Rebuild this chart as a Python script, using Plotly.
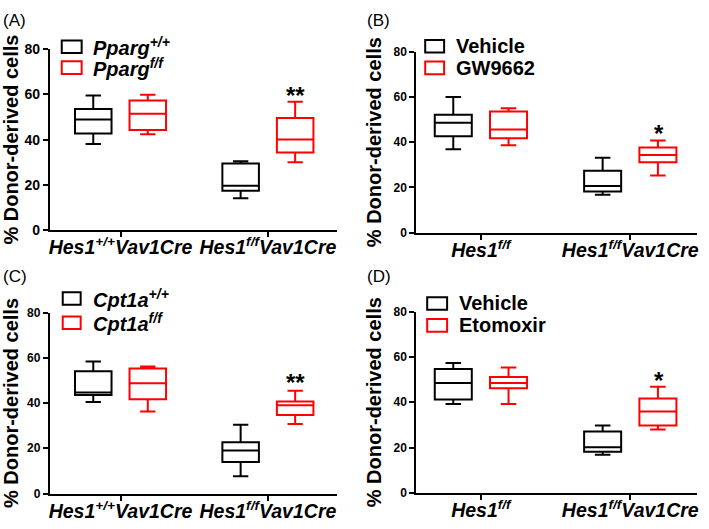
import plotly.graph_objects as go

W, H = 709, 529
FONT = "Liberation Sans, Arial, sans-serif"
BLACK = "#000000"
RED = "#ff0000"

# ---------------- data (per group: [lower whisker, q1, median, q3, upper whisker]) ----------------
cats_AC = ["<b><i>Hes1<sup>+/+</sup>Vav1Cre</i></b>", "<b><i>Hes1<sup>f/f</sup>Vav1Cre</i></b>"]
cats_BD = ["<b><i>Hes1<sup>f/f</sup></i></b>", "<b><i>Hes1<sup>f/f</sup>Vav1Cre</i></b>"]

A_names = ["Pparg<sup>+/+</sup>", "Pparg<sup>f/f</sup>"]
A_ctrl = [[38.1, 42.7, 48.9, 53.6, 59.6], [14.0, 17.3, 19.5, 29.4, 30.4]]
A_trt = [[42.4, 44.3, 51.5, 57.3, 59.9], [30.0, 34.3, 40.0, 49.6, 56.8]]

B_names = ["Vehicle", "GW9662"]
B_ctrl = [[36.9, 42.6, 48.6, 52.1, 60.0], [16.8, 18.2, 20.6, 27.4, 33.1]]
B_trt = [[38.6, 41.7, 45.6, 53.6, 55.0], [25.3, 31.1, 34.3, 37.6, 40.7]]

C_names = ["Cpt1a<sup>+/+</sup>", "Cpt1a<sup>f/f</sup>"]
C_ctrl = [[40.4, 43.6, 44.6, 54.0, 58.3], [7.7, 13.9, 19.0, 22.7, 30.4]]
C_trt = [[36.3, 41.7, 48.7, 55.3, 56.1], [30.7, 34.7, 39.0, 40.7, 45.4]]

D_names = ["Vehicle", "Etomoxir"]
D_ctrl = [[39.2, 41.2, 48.5, 54.6, 57.3], [16.8, 18.1, 20.1, 27.1, 29.7]]
D_trt = [[39.2, 46.1, 48.5, 51.1, 55.3], [28.0, 29.7, 35.9, 41.6, 46.8]]

y_ticks = [0, 20, 40, 60, 80]
sig_marks = ["**", "*", "**", "*"]
sig_y = [61.0, 45.3, 50.4, 50.7]


def px(x):
    return x / W


def py(y):
    return 1 - y / H


# panel geometry in pixels: (x_left, x_right, y_top(80), y_bottom(0), xrange)
panels = [
    dict(key="A", x0=49, x1=337, yt=42.7, yb=228.7, xr=[-0.48, 1.466], cats=cats_AC,
         ctrl=A_ctrl, trt=A_trt, names=A_names, italic=True, tick=14,
         leg=dict(sx0=61, sx1=81, rows=[40, 61.5], tx=90)),
    dict(key="B", x0=417, x1=699, yt=45, yb=231.7, xr=[-0.433, 1.447], cats=cats_BD,
         ctrl=B_ctrl, trt=B_trt, names=B_names, italic=False, tick=12,
         leg=dict(sx0=426, sx1=445, rows=[39.5, 61.7], tx=455)),
    dict(key="C", x0=49, x1=337, yt=314, yb=500.7, xr=[-0.48, 1.466], cats=cats_AC,
         ctrl=C_ctrl, trt=C_trt, names=C_names, italic=True, tick=12,
         leg=dict(sx0=62, sx1=80, rows=[299.5, 324.5], tx=90)),
    dict(key="D", x0=417, x1=699, yt=313, yb=500, xr=[-0.433, 1.447], cats=cats_BD,
         ctrl=D_ctrl, trt=D_trt, names=D_names, italic=False, tick=12,
         leg=dict(sx0=428, sx1=448, rows=[304.7, 327.3], tx=458)),
]

fig = go.Figure()
layout = dict(
    width=W, height=H,
    margin=dict(l=0, r=0, t=0, b=0),
    paper_bgcolor="white", plot_bgcolor="white",
    boxmode="group", boxgap=0.26, boxgroupgap=0.33,
    showlegend=False,
    font=dict(family=FONT, color=BLACK),
)
shapes = []
annotations = []

for i, p in enumerate(panels):
    n = "" if i == 0 else str(i + 1)
    xa, ya = "x" + n, "y" + n
    for series, color, name, og in [(p["ctrl"], BLACK, p["names"][0], "c"),
                                    (p["trt"], RED, p["names"][1], "t")]:
        fig.add_trace(go.Box(
            x=p["cats"],
            lowerfence=[g[0] for g in series],
            q1=[g[1] for g in series],
            median=[g[2] for g in series],
            q3=[g[3] for g in series],
            upperfence=[g[4] for g in series],
            name=name, offsetgroup=og,
            line=dict(color=color, width=2),
            fillcolor="rgba(255,255,255,0)",
            whiskerwidth=0.42, boxpoints=False,
            xaxis=xa, yaxis=ya, showlegend=False,
        ))
    layout["xaxis" + n] = dict(
        domain=[px(p["x0"]), px(p["x1"])], anchor=ya, type="category",
        categoryorder="array", categoryarray=p["cats"], range=p["xr"],
        showline=True, linewidth=2, linecolor=BLACK, ticks="outside",
        ticklen=5, tickwidth=2, tickcolor=BLACK, showgrid=False, zeroline=False,
        ticklabelstandoff=-6,
        tickfont=dict(family=FONT, size=19.5, color=BLACK),
    )
    layout["yaxis" + n] = dict(
        domain=[py(p["yb"]), py(p["yt"])], anchor=xa, range=[0, 80],
        tickvals=y_ticks, ticktext=[str(v) for v in y_ticks],
        showline=True, linewidth=2, linecolor=BLACK, ticks="outside",
        ticklen=5, tickwidth=2, tickcolor=BLACK, showgrid=False, zeroline=False,
        tickfont=dict(family=FONT, size=p["tick"], color=BLACK, weight="bold"),
        title=dict(text="% Donor-derived cells", standoff=6,
                   font=dict(family=FONT, size=20, color=BLACK, weight="bold")),
    )
    # significance marks over treated Hes1f/fVav1Cre box
    annotations.append(dict(
        x=1.19, y=sig_y[i], xref=xa, yref=ya, text="<b>" + sig_marks[i] + "</b>",
        showarrow=False, font=dict(family=FONT, size=24, color=BLACK),
        xanchor="center", yanchor="middle", yshift=-3,
    ))
    # panel letter
    annotations.append(dict(
        x=px(0 if p["x0"] < 100 else 366), y=py(1 if p["yt"] < 100 else 265),
        xref="paper", yref="paper", text="(" + p["key"] + ")", showarrow=False,
        xanchor="left", yanchor="top", font=dict(family=FONT, size=17, color=BLACK),
    ))
    # legend (drawn keys + labels)
    lg = p["leg"]
    for r, (color, name) in enumerate([(BLACK, p["names"][0]), (RED, p["names"][1])]):
        yc = lg["rows"][r]
        shapes.append(dict(type="rect", xref="paper", yref="paper",
                           x0=px(lg["sx0"]), x1=px(lg["sx1"]),
                           y0=py(yc + 6.5), y1=py(yc - 6.5),
                           line=dict(color=color, width=2), fillcolor="rgba(0,0,0,0)"))
        txt = "<b><i>" + name + "</i></b>" if p["italic"] else "<b>" + name + "</b>"
        annotations.append(dict(
            x=px(lg["tx"]), y=py(yc), xref="paper", yref="paper", text=txt,
            showarrow=False, xanchor="left", yanchor="middle",
            font=dict(family=FONT, size=20, color=BLACK),
        ))

layout["shapes"] = shapes
layout["annotations"] = annotations
fig.update_layout(**layout)
fig.write_html(
    "out.html",
    config={"displayModeBar": False},
    post_script="document.body.style.margin='0';document.body.style.overflow='hidden';",
)
